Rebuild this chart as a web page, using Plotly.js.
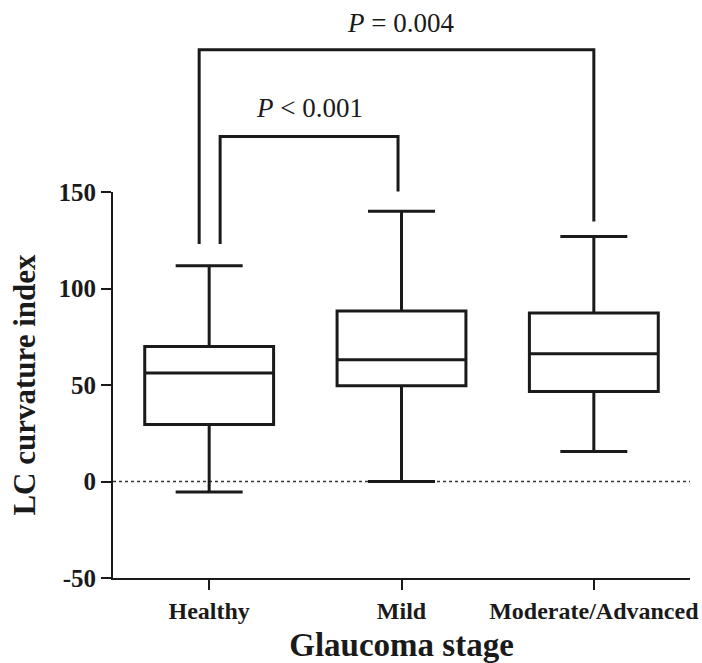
<!DOCTYPE html>
<html>
<head>
<meta charset="utf-8">
<script src="https://cdn.plot.ly/plotly-3.0.1.min.js"></script>
<style>html,body{margin:0;padding:0;background:#fff;}#chart{width:702px;height:663px;}</style>
</head>
<body>
<div id="chart"></div>
<script>
// ---- data ----
var categories = ["Healthy", "Mild", "Moderate/Advanced"];
var lowerWhisker = [-5.5, 0, 15.5];
var q1Values = [29.5, 49.6, 46.6];
var medianValues = [56.2, 63.1, 66.2];
var q3Values = [70, 88.4, 87.3];
var upperWhisker = [111.8, 140, 127];
var yTickValues = [-50, 0, 50, 100, 150];
var yTickLabels = ["-50", "0", "50", "100", "150"];
var pLabels = ["<i>P</i> = 0.004", "<i>P</i> < 0.001"];

// ---- layout helpers ----
var Y_MIN = -50, Y_MAX = 150;
function py(v) { return (v - Y_MIN) / (Y_MAX - Y_MIN); }   // value -> paper y
function px(i, off) { return (i + 0.5 + (off || 0)) / categories.length; } // category index -> paper x

var serif = "Liberation Serif, Times New Roman, serif";

var trace = {
  type: "box",
  x: categories,
  q1: q1Values,
  median: medianValues,
  q3: q3Values,
  lowerfence: lowerWhisker,
  upperfence: upperWhisker,
  boxpoints: false,
  fillcolor: "#ffffff",
  line: { color: "#1a1a1a", width: 3 },
  whiskerwidth: 0.52,
  width: 0.67,
  hoverinfo: "skip",
  showlegend: false
};

function bracket(xl, xr, yTop, yLeft, yRight) {
  return {
    type: "path", xref: "paper", yref: "paper",
    path: "M " + xl + " " + py(yLeft) + " L " + xl + " " + py(yTop) +
          " L " + xr + " " + py(yTop) + " L " + xr + " " + py(yRight),
    line: { color: "#1a1a1a", width: 3 }
  };
}

var shapes = [
  { type: "line", xref: "paper", yref: "y", x0: 0, x1: 1, y0: 0, y1: 0,
    line: { color: "#333", width: 1.5, dash: "dot" }, layer: "below" },
  bracket(px(0, -0.052), px(2, 0.0), 223.7, 123, 134.7),
  bracket(px(0, 0.057), px(1, -0.018), 178.8, 123, 150.3)
];

var annotations = [
  { xref: "paper", yref: "paper", x: px(1, -0.005), y: py(237.5), text: pLabels[0],
    showarrow: false, xanchor: "center", yanchor: "middle",
    font: { family: serif, size: 27, color: "#1a1a1a" } },
  { xref: "paper", yref: "paper", x: px(0, 0.52), y: py(193.5), text: pLabels[1],
    showarrow: false, xanchor: "center", yanchor: "middle",
    font: { family: serif, size: 27, color: "#1a1a1a" } }
];

var layout = {
  width: 702, height: 663,
  margin: { l: 113, r: 12, t: 192, b: 85 },
  paper_bgcolor: "#ffffff", plot_bgcolor: "#ffffff",
  font: { family: serif, color: "#1a1a1a" },
  showlegend: false,
  xaxis: {
    type: "category",
    range: [-0.5, 2.5],
    showline: true, linecolor: "#1a1a1a", linewidth: 2,
    ticks: "outside", ticklen: 10, tickwidth: 2, tickcolor: "#1a1a1a",
    showgrid: false, zeroline: false,
    tickfont: { family: serif, size: 24, weight: "bold", color: "#1a1a1a" },
    title: { text: "Glaucoma stage", standoff: 12,
             font: { family: serif, size: 33, weight: "bold", color: "#1a1a1a" } },
    fixedrange: true
  },
  yaxis: {
    range: [Y_MIN, Y_MAX],
    tickmode: "array",
    tickvals: yTickValues,
    ticktext: yTickLabels.map(function (t) { return "<b>" + t + "</b>"; }),
    showline: true, linecolor: "#1a1a1a", linewidth: 2,
    ticks: "outside", ticklen: 10, tickwidth: 2, tickcolor: "#1a1a1a",
    showgrid: false, zeroline: false,
    tickfont: { family: serif, size: 25, weight: "bold", color: "#1a1a1a" },
    title: { text: "LC curvature index", standoff: 14,
             font: { family: serif, size: 31, weight: "bold", color: "#1a1a1a" } },
    fixedrange: true
  },
  shapes: shapes,
  annotations: annotations
};

Plotly.newPlot("chart", [trace], layout, { displayModeBar: false, staticPlot: true });
</script>
</body>
</html>
